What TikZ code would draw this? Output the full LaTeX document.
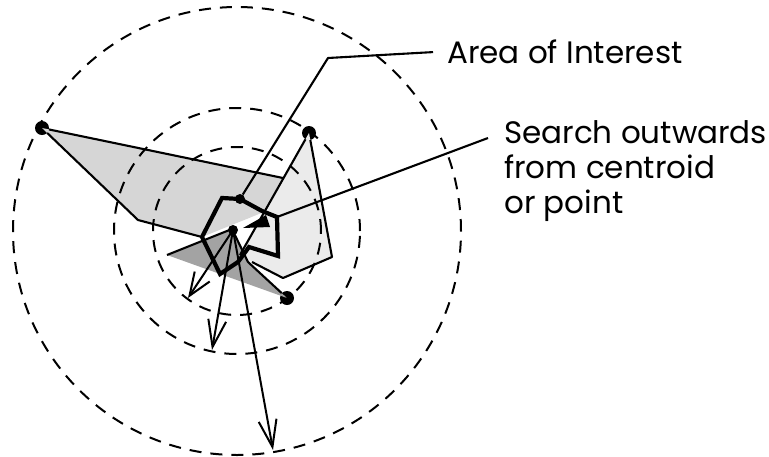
\documentclass[tikz,border=0pt]{standalone}
\usepackage{fontspec}
\setsansfont{Poppins}
\usetikzlibrary{arrows.meta}

\begin{document}
\begin{tikzpicture}[x=1pt, y=-1pt,
  ring/.style  = {draw, dash pattern=on 12pt off 9pt, line width=2pt},
  edge/.style  = {draw, line width=2.1pt, line join=round},
  aoi/.style   = {draw, line width=4.2pt, line join=miter},
  dot/.style   = {circle, fill, inner sep=0pt, minimum size=14pt},
  tiny/.style  = {circle, fill, inner sep=0pt, minimum size=10pt},
  arr/.style   = {-{Straight Barb[length=27pt, width=18pt, line width=2pt]}, line width=2pt},
  lbl/.style   = {font=\sffamily\fontsize{31}{35}\selectfont, inner sep=0pt},
]
  \useasboundingbox (0,0) rectangle (769,456);

  % vertices of the three search regions
  \coordinate (p1a) at (42,128);
  \coordinate (p1b) at (283,178);
  \coordinate (p1c) at (264,212);
  \coordinate (p1d) at (202,237);
  \coordinate (p1e) at (138,220);
  \coordinate (p2b) at (332,257);
  \coordinate (p2c) at (283,278);
  \coordinate (p2d) at (252,262);
  \coordinate (p2e) at (240,255);
  \coordinate (dk1) at (167,255);
  \coordinate (dk2) at (232,229);
  \coordinate (dk3) at (248,262);
  \node[dot]  (pt1) at (42,128)  {};
  \node[dot]  (pt2) at (309,133) {};
  \node[dot]  (pt3) at (287,298) {};

  % filled regions
  \fill[gray!32] (p1a) -- (p1b) -- (p1c) -- (p1d) -- (p1e) -- cycle;
  \fill[gray!16] (pt2.center) -- (p2b) -- (p2c) -- (p2d) -- (p2e) -- cycle;
  \fill[gray!72] (dk1) -- (dk2) -- (dk3) -- (pt3.center) -- cycle;

  % search rings round the centroid
  \coordinate (mid) at (237,231);
  \foreach \r in {224,123,84}
    \draw[ring] (mid) circle[radius=\r pt];

  % region outlines
  \draw[edge] (pt1) -- (p1b);
  \draw[edge] (pt1) -- (p1e) -- (p1d);
  \draw[edge] (pt2) -- (p2e);
  \draw[edge] (pt2) -- (p2b) -- (p2c) -- (p2d);
  \draw[edge] (dk1) -- (dk2) -- (dk3) -- (pt3) -- cycle;

  % area of interest
  \coordinate (a1) at (202,237);
  \coordinate (a2) at (222,198);
  \node[tiny] (a3) at (240,199) {};
  \coordinate (a4) at (262,211);
  \coordinate (a5) at (277,217);
  \coordinate (a6) at (278,256);
  \coordinate (a7) at (249,247);
  \coordinate (a8) at (238,262);
  \coordinate (a9) at (220,274);
  \draw[aoi] (a1) -- (a2) -- (a3.center) -- (a4) -- (a5) -- (a6) -- (a7) -- (a8) -- (a9) -- cycle;

  % centroid and search directions
  \fill (243,228) -- (266,215) -- (270,227) -- cycle;
  \node[tiny] (cen) at (233,230) {};
  \coordinate (t1) at (188,298);
  \coordinate (t2) at (212,350);
  \coordinate (t3) at (273,450);
  \draw[arr, -{Straight Barb[length=23pt, width=18pt, line width=2pt]}] (cen.center) -- (t1);
  \draw[arr] (cen.center) -- (t2);
  \draw[arr] (cen.center) -- (t3);

  % labels
  \node[lbl, anchor=base west] (aoitext) at (447,63) {Area of Interest};
  \node[lbl, anchor=north west, align=left] (srchtext) at (504,120)
    {Search outwards\\from centroid\\or point};
  \coordinate (knee) at (328,58);
  \coordinate (srchend) at (488,138);
  \draw[edge, shorten <=14pt] (aoitext.west) -- (knee) -- (a3);
  \draw[edge] (srchend) -- (a5);
\end{tikzpicture}
\end{document}
